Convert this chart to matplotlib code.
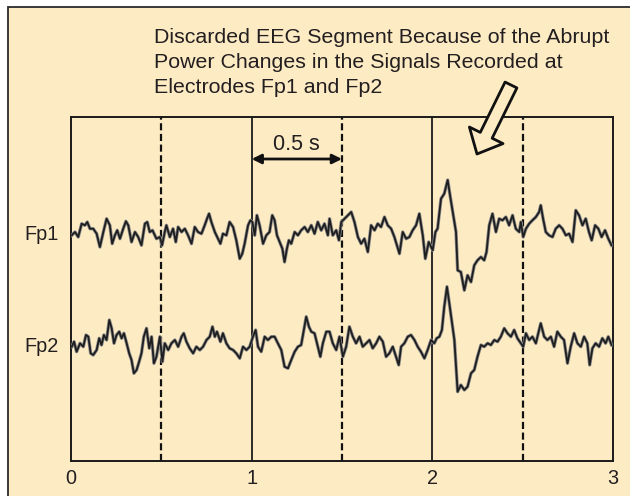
import numpy as np
import matplotlib
matplotlib.use("Agg")
import matplotlib.pyplot as plt
from matplotlib.patches import Rectangle, FancyArrowPatch

# ---------------- data (time in s, amplitude in arbitrary units) ----------------
fp1_t = [0.004, 0.022, 0.040, 0.059, 0.077, 0.090, 0.105, 0.123, 0.142, 0.160,
         0.179, 0.197, 0.215, 0.228, 0.243, 0.256, 0.271, 0.289, 0.304, 0.317,
         0.335, 0.354, 0.372, 0.390, 0.409, 0.422, 0.436, 0.451, 0.473, 0.492,
         0.504, 0.519, 0.528, 0.547, 0.565, 0.580, 0.593, 0.612, 0.630, 0.648,
         0.667, 0.685, 0.703, 0.722, 0.740, 0.753, 0.764, 0.777, 0.796, 0.814,
         0.827, 0.841, 0.860, 0.878, 0.897, 0.915, 0.934, 0.948, 0.961, 0.980,
         0.993, 1.004, 1.017, 1.029, 1.044, 1.063, 1.081, 1.099, 1.114, 1.127,
         1.140, 1.155, 1.170, 1.182, 1.195, 1.206, 1.219, 1.238, 1.256, 1.274,
         1.293, 1.311, 1.330, 1.348, 1.366, 1.385, 1.403, 1.422,
         1.431, 1.449, 1.468, 1.483, 1.496, 1.514, 1.532, 1.551, 1.569, 1.588,
         1.606, 1.624, 1.643, 1.661, 1.680, 1.698, 1.716, 1.735, 1.753, 1.772,
         1.790, 1.818, 1.836, 1.855, 1.873, 1.891, 1.910, 1.928, 1.947, 1.961,
         1.980, 2.002, 2.017, 2.029, 2.048, 2.066, 2.085, 2.098, 2.113, 2.131,
         2.140, 2.158, 2.177, 2.195, 2.214, 2.232, 2.250, 2.269, 2.287, 2.300,
         2.315, 2.333, 2.352, 2.370, 2.388, 2.407, 2.425, 2.444, 2.462, 2.481,
         2.490, 2.503, 2.518, 2.536, 2.554, 2.573, 2.591, 2.600, 2.613, 2.628,
         2.646, 2.665, 2.683, 2.702, 2.720, 2.739, 2.757, 2.776, 2.794, 2.812,
         2.831, 2.849, 2.867, 2.882, 2.901, 2.919, 2.937, 2.956, 2.974, 2.992]
fp1_v = [-3.3, 0, -5, 8.3, 6.7, 10, 3.3, 3.3, -1.7, -15,
         0, 13.3, 6.7, -11.7, -3.3, 1.7, -6.7, 3.3, 10.7, 6.7,
         -10, 0, -5, -13.3, 8.3, 10, 0, 1.7, -6.7, -5,
         -13.3, 0, 6.7, -5, 3.3, -10, 5, 0, 3.3, -3.3,
         -11.7, 5, 0, -1.7, 6.7, 13.3, 18.3, 10, 0, -6.7,
         -11.7, -1.7, -3.3, 10, 5, -8.3, -26.7, -21.7, -11.7, 6.7,
         11.7, 10, -3.3, 16.7, 6.7, -11.7, -3.3, 0, 16.7, 11.7,
         -3.3, -10, -16.7, -30, -16.7, -8.3, -11.7, 0, -3.3, 1.7,
         5, 0, 6.7, -1.7, 10, 1.7, 8.3, -3.3,
         13.3, -3.3, 1.7, -8.3, 10, 13.3, 16.7, 20, 10, -5,
         -11.7, -6.7, -20, 6.7, 1.7, 8.3, 5, 15, 6.7, 3.3,
         -5, -21.7, 0, -6.7, -5, 1.7, 6.7, 18.3, -3.3, -26.7,
         -10, -18.3, 0, 3.3, 33.3, 38.3, 52, 36.7, 20, 0,
         -38.3, -40, -58.3, -43.3, -50, -33.3, -28.3, -25, -28.3, -20,
         6.7, 18.3, 0, 13.3, 11.7, 15, 6.7, 16.7, 3.3, 0,
         10, -5, 3.3, 8.3, 11.7, 15, 20, 26.7, 13.3, 0,
         -3.3, -5, 3.3, 6.7, 3.3, -3.3, -1.7, -10, 21.7, 16.7,
         6.7, 13.3, 0, -8.3, 6.7, 3.3, -5, 1.7, -6.7, -13.3]

fp2_t = [0.004, 0.017, 0.031, 0.050, 0.068, 0.083, 0.096, 0.109, 0.123, 0.142,
         0.156, 0.169, 0.182, 0.197, 0.212, 0.225, 0.238, 0.252, 0.267, 0.280,
         0.293, 0.308, 0.322, 0.335, 0.348, 0.363, 0.377, 0.390, 0.403, 0.418,
         0.433, 0.446, 0.459, 0.473, 0.492, 0.506, 0.519, 0.538, 0.556, 0.575,
         0.593, 0.612, 0.624, 0.639, 0.657, 0.676, 0.694, 0.713, 0.731, 0.750,
         0.768, 0.783, 0.796, 0.808, 0.827, 0.841, 0.860, 0.878, 0.897, 0.915,
         0.934, 0.952, 0.971, 0.989, 1.007, 1.022, 1.035, 1.053, 1.072, 1.090,
         1.109, 1.127, 1.145, 1.164, 1.182, 1.201, 1.219, 1.238, 1.256, 1.274,
         1.287, 1.302, 1.317, 1.330, 1.348, 1.366, 1.380, 1.394, 1.413, 1.431,
         1.449, 1.468, 1.486, 1.505, 1.523, 1.541, 1.560, 1.578, 1.597, 1.615,
         1.634, 1.652, 1.670, 1.689, 1.707, 1.726, 1.744, 1.762, 1.781, 1.799,
         1.814, 1.827, 1.845, 1.864, 1.882, 1.901, 1.919, 1.937, 1.956, 1.974,
         1.993, 2.011, 2.024, 2.039, 2.053, 2.066, 2.081, 2.094, 2.109, 2.122,
         2.131, 2.140, 2.158, 2.177, 2.195, 2.214, 2.232, 2.250, 2.269, 2.287,
         2.306, 2.324, 2.343, 2.361, 2.379, 2.398, 2.416, 2.435, 2.453, 2.471,
         2.490, 2.503, 2.518, 2.536, 2.554, 2.573, 2.591, 2.600, 2.619, 2.637,
         2.656, 2.674, 2.692, 2.711, 2.729, 2.748, 2.766, 2.785, 2.803, 2.822,
         2.840, 2.858, 2.871, 2.886, 2.904, 2.923, 2.941, 2.959, 2.974, 2.992]
fp2_v = [-1.7, 3.3, -6.7, 1.7, -1.7, 10, 8.3, -8.3, -10, -5,
         6.7, 0, 10, 5, 25, 16.7, 1.7, 10, 13.3, 6.7,
         11.7, 1.7, -8.3, -15, -28.3, -25, -16.7, -8.3, 8.3, 16.7,
         -3.3, 8.3, -18.3, -11.7, 8.3, -16.7, 1.7, -5, 1.7, 5,
         -1.7, 8.3, 11.7, 3.3, -3.3, -8.3, -1.7, -5, -1.7, 5,
         8.3, 18.3, 8.3, 13.3, 3.3, 11.7, 1.7, -3.3, -5, -8.3,
         -13.3, -1.7, -5, -1.7, 8.3, 15, -1.7, -6.7, 8.3, 5,
         8.3, 8.3, 1.7, -5, -21.7, -23.3, -15, -6.7, -1.7, 0,
         13.3, 28.3, 18.3, 13.3, 11.7, -1.7, -11.7, 1.7, 13.3, 13.3,
         1.7, -5, 8.3, -11.7, -1.7, 18.3, 8.3, 1.7, 8.3, -1.7,
         1.7, 5, -3.3, 1.7, 8.3, 3.3, -11.7, -8.3, -1.7, -11.7,
         -20, -1.7, 1.7, 8.3, 10, 5, -1.7, -6.7, -13.3, -5,
         5, 1.7, 6.7, 8.3, 15, 38.3, 58.3, 41.7, 21.7, 5,
         -21.7, -46.7, -40, -45, -41.7, -28.3, -25, -11.7, 0, -1.7,
         1.7, 0, 5, 3.3, 8.3, 16.7, 11.7, 8.3, 15, 6.7,
         1.7, -1.7, 11.7, 5, 8.3, 1.7, 15, 21.7, 8.3, 5,
         8.3, -1.7, 13.3, 8.3, 5, -18.3, -1.7, 11.7, 1.7, -1.7,
         8.3, 1.7, -20, -3.3, 1.7, -1.7, 6.7, 1.7, 8.3, 0]

channels = ["Fp1", "Fp2"]
x_ticks = [0, 1, 2, 3]
solid_marks = [1, 2]
dashed_marks = [0.5, 1.5, 2.5]
note_lines = ["Discarded EEG Segment Because of the Abrupt",
              "Power Changes in the Signals Recorded at",
              "Electrodes Fp1 and Fp2"]
scale_label = "0.5 s"

# ---------------- layout ----------------
W, H = 630, 496
BG = "#FDEBC4"
INK = "#231F20"
plt.rcParams["font.family"] = ["Liberation Sans", "DejaVu Sans"]

fig = plt.figure(figsize=(W / 100, H / 100), dpi=100)
fig.patch.set_facecolor("white")
fig.add_artist(Rectangle((8 / W, -0.1), 1.2, (H - 7) / H + 0.1,
                         transform=fig.transFigure, facecolor=BG,
                         edgecolor="#2b2b2b", lw=1.3, zorder=0))

ax = fig.add_axes([71 / W, 35 / H, 542 / W, 344 / H])
ax.patch.set_alpha(0)
ax.set_xlim(0, 3)
ax.set_ylim(0, 344)
offsets = [229, 116]

for s in ax.spines.values():
    s.set_color("#1a1a1a")
    s.set_linewidth(1.4)

for xv in solid_marks:
    ax.axvline(xv, color="#1a1a1a", lw=1.3, zorder=1)
for xv in dashed_marks:
    ax.axvline(xv, color="#111111", lw=1.6, dashes=(3.2, 1.6), zorder=1)

for t, v, off in [(fp1_t, fp1_v, offsets[0]), (fp2_t, fp2_v, offsets[1])]:
    y = off + np.asarray(v)
    ax.plot(t, y, color="#8a8a8a", lw=2.4, solid_joinstyle="round", zorder=3)
    ax.plot(t, y, color="#1e1e1e", lw=1.3, solid_joinstyle="round", zorder=4)

ax.set_xticks(x_ticks)
ax.set_xticklabels([str(v) for v in x_ticks])
ax.set_yticks(offsets)
ax.set_yticklabels(channels)
ax.tick_params(axis="x", length=0, pad=6.0, labelsize=14.3, labelcolor=INK)
ax.tick_params(axis="y", length=0, pad=9, labelsize=14.3, labelcolor=INK)

# 0.5 s scale arrow
ax.annotate("", xy=(solid_marks[0], 302), xytext=(dashed_marks[1], 302),
            arrowprops=dict(arrowstyle="<|-|>", color="#111111", lw=2.0,
                            shrinkA=0, shrinkB=0, mutation_scale=14), zorder=5)
ax.text((solid_marks[0] + dashed_marks[1]) / 2, 311, scale_label, ha="center",
        va="baseline", fontsize=15.5, color=INK)

# note text
for i, line in enumerate(note_lines):
    fig.text(154 / W, 1 - (43 + 25 * i) / H, line, ha="left", va="baseline",
             fontsize=15.4, color=INK)

# hollow arrow
arr = FancyArrowPatch(posA=(511 / W, 1 - 85 / H), posB=(477 / W, 1 - 154 / H),
                      transform=fig.transFigure,
                      arrowstyle="simple,head_length=15,head_width=27,tail_width=9.5",
                      mutation_scale=1, facecolor=BG, edgecolor="#111111",
                      lw=2.0, shrinkA=0, shrinkB=0, zorder=6)
fig.add_artist(arr)

fig.savefig("out.png", dpi=100, facecolor="white")
